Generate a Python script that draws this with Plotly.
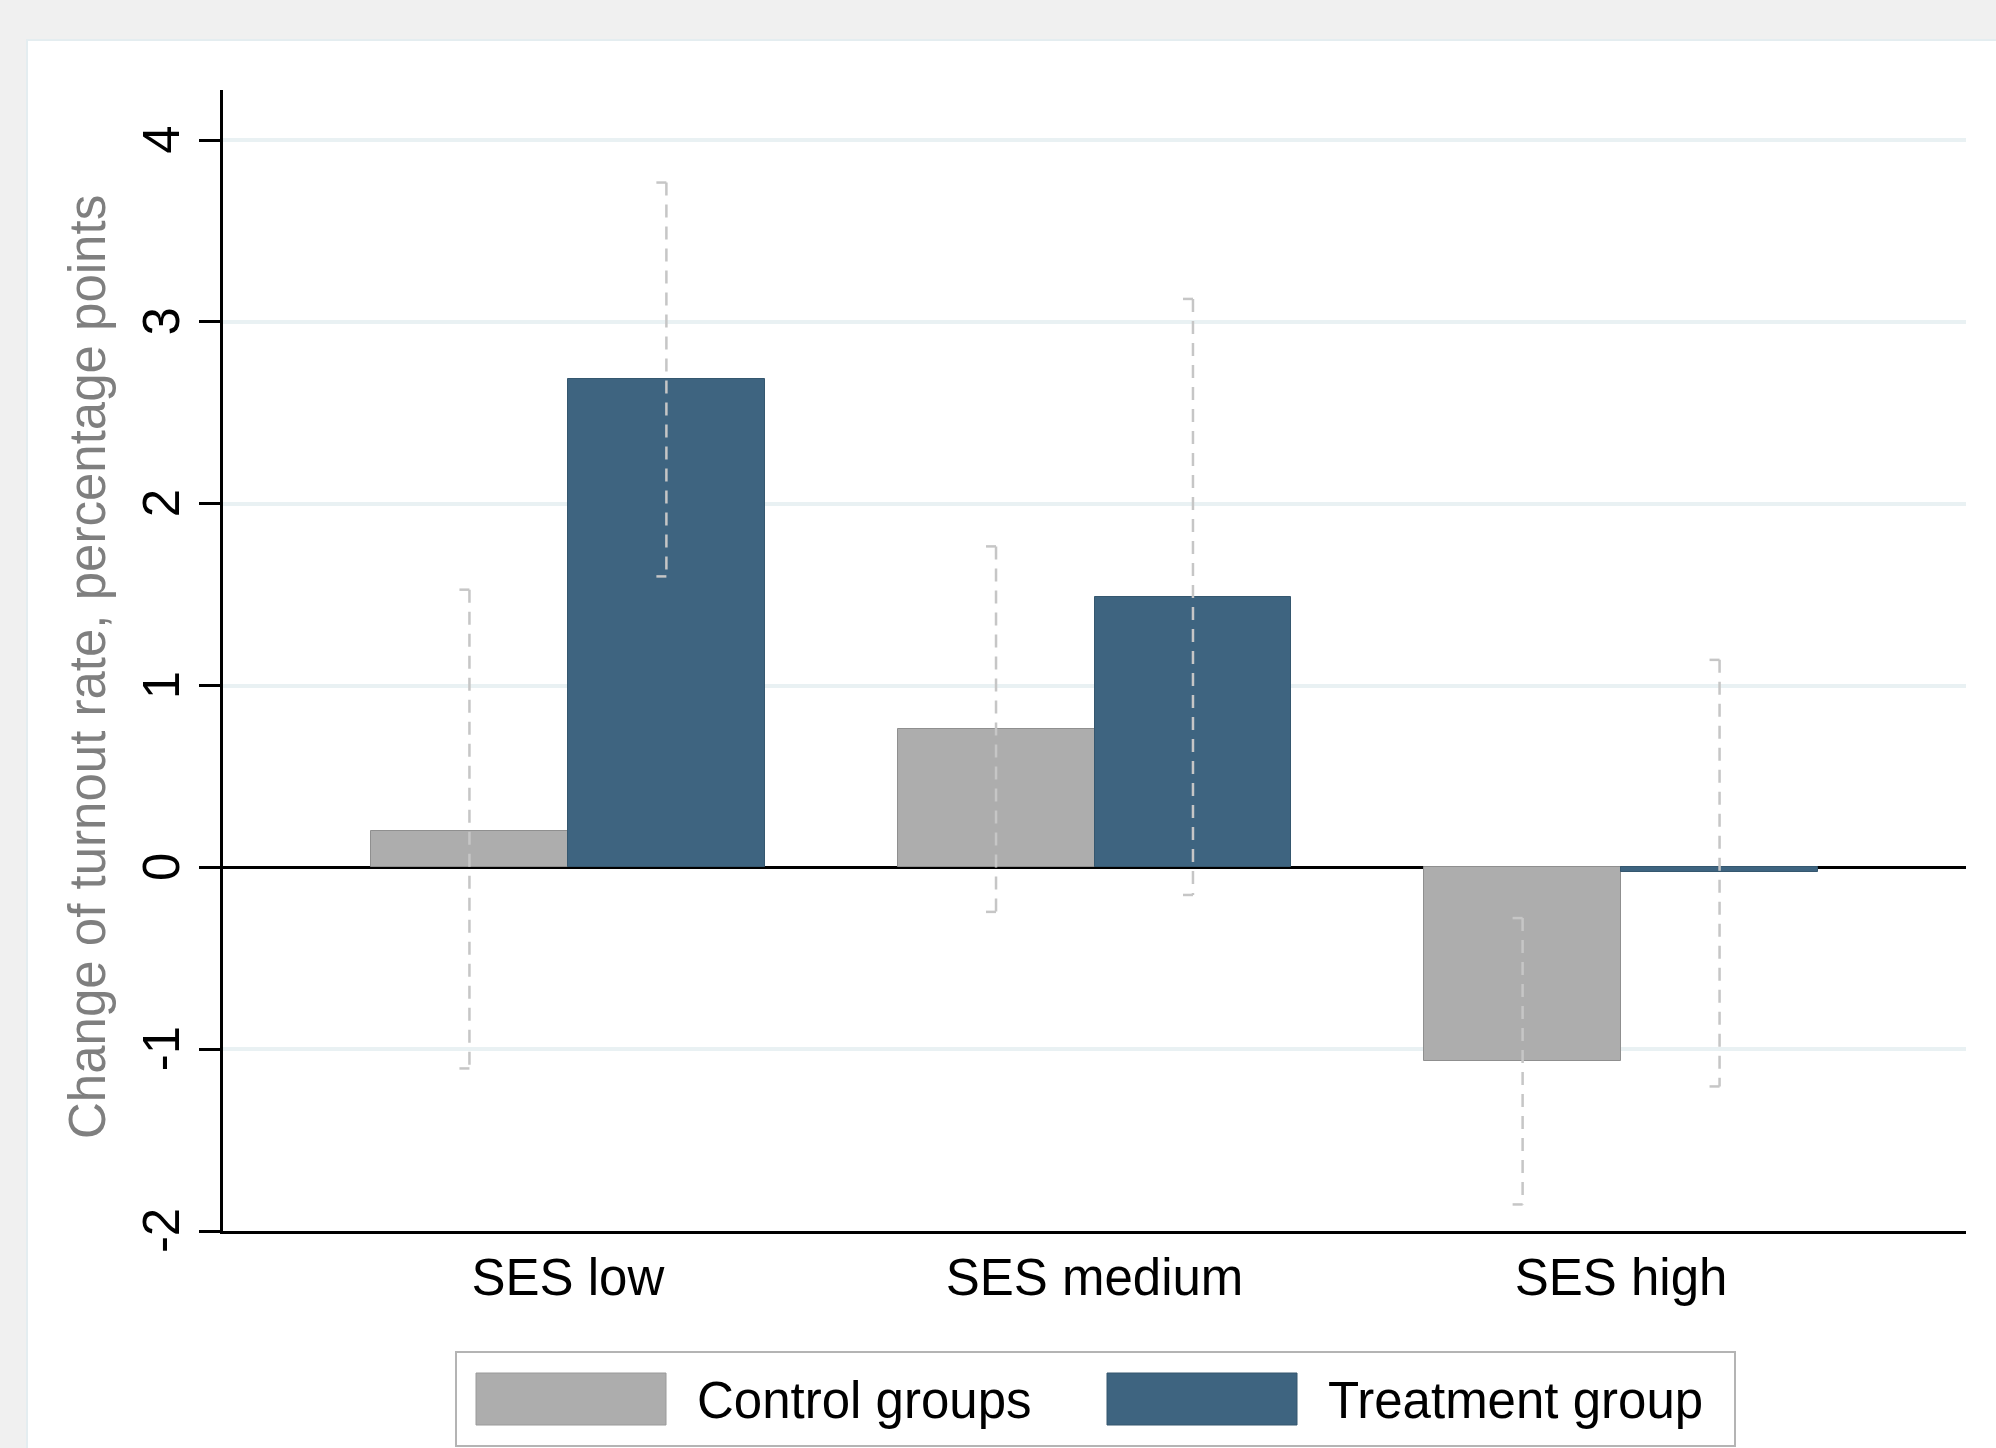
import plotly.graph_objects as go

categories = ["SES low", "SES medium", "SES high"]
series_names = ["Control groups", "Treatment group"]
control_vals = [0.20, 0.76, -1.067]
treatment_vals = [2.684, 1.485, -0.028]
control_hi = [1.527, 1.765, -0.279]
control_lo = [-1.106, -0.245, -1.854]
treatment_hi = [3.766, 3.126, 1.141]
treatment_lo = [1.60, -0.152, -1.205]
y_ticks = [-2, -1, 0, 1, 2, 3, 4]

CTRL_COLOR = "#adadad"
TREAT_COLOR = "#3e6480"
ERR_COLOR = "#c6c6c6"
FONT = "Liberation Sans, Arial, Helvetica, sans-serif"
FS = 51

W, H = 1996, 1448
L, R, T, B = 223, 30, 90, 217
bar_w = 0.374
off = bar_w / 2
capw = 0.019

xpos = list(range(len(categories)))
fig = go.Figure()

for vals, name, color, sgn in [(control_vals, series_names[0], CTRL_COLOR, -1),
                               (treatment_vals, series_names[1], TREAT_COLOR, 1)]:
    fig.add_trace(go.Bar(
        x=[p + sgn * off for p in xpos], y=vals, width=bar_w, name=name,
        marker=dict(color=color, line=dict(color="#8f8f8f" if sgn < 0 else "#35576f", width=1)),
        showlegend=False,
    ))

def err_traces(hi, lo, sgn):
    vx, vy, cx, cy = [], [], [], []
    for p, h, l in zip(xpos, hi, lo):
        xc = p + sgn * off
        vx += [xc, xc, None]
        vy += [h, l, None]
        cx += [xc - capw, xc, None, xc - capw, xc, None]
        cy += [h, h, None, l, l, None]
    fig.add_trace(go.Scatter(x=vx, y=vy, mode="lines",
                             line=dict(color=ERR_COLOR, width=2.5, dash="13px,9px"),
                             showlegend=False, hoverinfo="skip"))
    fig.add_trace(go.Scatter(x=cx, y=cy, mode="lines",
                             line=dict(color=ERR_COLOR, width=2.5),
                             showlegend=False, hoverinfo="skip"))

err_traces(control_hi, control_lo, -1)
err_traces(treatment_hi, treatment_lo, 1)

pw = W - L - R
ph = H - T - B
def px(xp):
    return (xp - L) / pw
def py(yp):
    return (H - B - yp) / ph

shapes = [
    dict(type="rect", xref="paper", yref="paper", x0=px(27), x1=px(W + 5), y0=py(40), y1=py(H + 5),
         fillcolor="white", line=dict(color="#e4edf0", width=2), layer="below"),
    dict(type="rect", xref="paper", yref="paper", x0=px(456), x1=px(1735), y0=py(1352), y1=py(1446),
         fillcolor="white", line=dict(color="#b4b4b4", width=2)),
    dict(type="rect", xref="paper", yref="paper", x0=px(476), x1=px(666), y0=py(1373), y1=py(1425),
         fillcolor=CTRL_COLOR, line=dict(color="#9a9a9a", width=1)),
    dict(type="rect", xref="paper", yref="paper", x0=px(1107), x1=px(1297), y0=py(1373), y1=py(1425),
         fillcolor=TREAT_COLOR, line=dict(color="#35576f", width=1)),
]

annotations = [
    dict(text=series_names[0], xref="paper", yref="paper", x=px(695), y=py(1400),
         xanchor="left", yanchor="middle", showarrow=False, font=dict(size=FS, color="black", family=FONT)),
    dict(text=series_names[1], xref="paper", yref="paper", x=px(1326), y=py(1400),
         xanchor="left", yanchor="middle", showarrow=False, font=dict(size=FS, color="black", family=FONT)),
    dict(text="Change of turnout rate, percentage points", xref="paper", yref="paper",
         x=px(87), y=py(667), xanchor="center", yanchor="middle", textangle=-90, showarrow=False,
         font=dict(size=FS, color="#7f7f7f", family=FONT)),
]

fig.update_layout(
    width=W, height=H,
    margin=dict(l=L, r=R, t=T, b=B, pad=0),
    paper_bgcolor="#f0f0f0",
    plot_bgcolor="white",
    font=dict(family=FONT, color="black"),
    shapes=shapes,
    annotations=annotations,
    showlegend=False,
    bargap=0,
    xaxis=dict(
        range=[-0.655, 2.655], tickvals=xpos, ticktext=categories,
        showgrid=False, zeroline=False, showline=True, linecolor="black", linewidth=3,
        ticks="", tickfont=dict(size=FS, color="black"), ticklabelstandoff=0,
    ),
    yaxis=dict(
        range=[-2, 4.275], tickvals=y_ticks, ticktext=[str(v) + "\u00a0" for v in y_ticks],
        showgrid=True, gridcolor="#e9f1f3", gridwidth=4,
        zeroline=True, zerolinecolor="black", zerolinewidth=3,
        showline=True, linecolor="black", linewidth=3,
        ticks="outside", ticklen=21, tickwidth=3, tickcolor="black",
        tickangle=-90, tickfont=dict(size=FS, color="black"), ticklabelstandoff=0,
    ),
)

fig.write_html("out.html", config={"displayModeBar": False},
               post_script="document.body.style.margin='0';document.body.style.background='#f0f0f0';")
